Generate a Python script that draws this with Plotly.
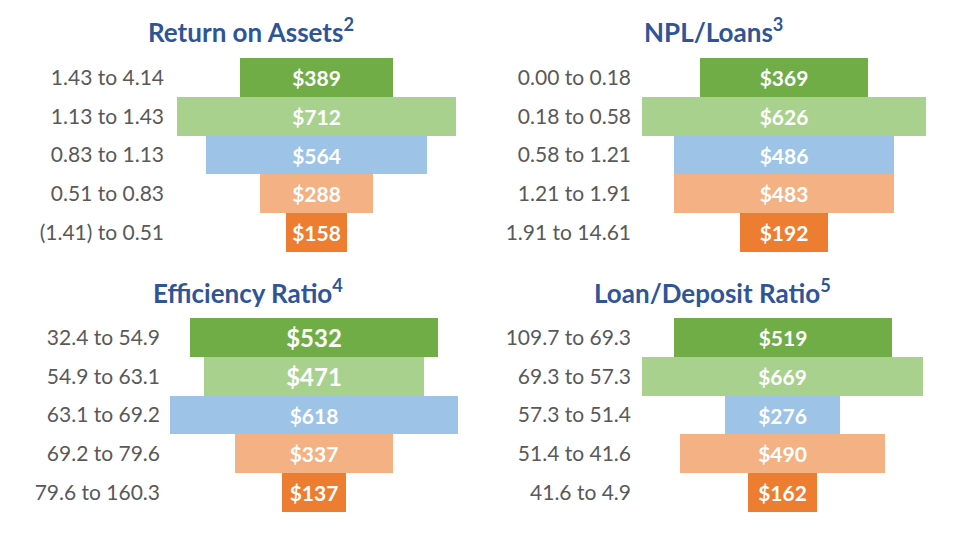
import plotly.graph_objects as go

# ---- data ----
roa_labels = ["1.43 to 4.14", "1.13 to 1.43", "0.83 to 1.13", "0.51 to 0.83", "(1.41) to 0.51"]
roa_values = [389, 712, 564, 288, 158]

npl_labels = ["0.00 to 0.18", "0.18 to 0.58", "0.58 to 1.21", "1.21 to 1.91", "1.91 to 14.61"]
npl_values = [369, 626, 486, 483, 192]

eff_labels = ["32.4 to 54.9", "54.9 to 63.1", "63.1 to 69.2", "69.2 to 79.6", "79.6 to 160.3"]
eff_values = [532, 471, 618, 337, 137]

ld_labels = ["109.7 to 69.3", "69.3 to 57.3", "57.3 to 51.4", "51.4 to 41.6", "41.6 to 4.9"]
ld_values = [519, 669, 276, 490, 162]

titles = ["Return on Assets<sup>2</sup>", "NPL/Loans<sup>3</sup>",
          "Efficiency Ratio<sup>4</sup>", "Loan/Deposit Ratio<sup>5</sup>"]

colors = ["#70AD47", "#A9D18E", "#9DC3E6", "#F4B183", "#ED7D31"]

# the page body adds an 8px margin; the figure is sized/placed to compensate
OFF = 8
W, H = 979 - 2 * OFF, 558 - 2 * OFF
FONT = "Lato"

# panel geometry in page pixels
panels = [
    (roa_labels, roa_values, 177, 456, 164, 58, 252, 251, 33, [21] * 5),
    (npl_labels, npl_values, 642, 926, 631, 58, 252, 713, 33, [21] * 5),
    (eff_labels, eff_values, 170, 458, 160, 318, 512, 248, 294, [24, 24, 21, 21, 21]),
    (ld_labels, ld_values, 642, 923, 631, 318, 512, 712, 294, [21] * 5),
]

fig = go.Figure()
layout = dict(
    width=W, height=H, margin=dict(l=0, r=0, t=0, b=0),
    paper_bgcolor="white", plot_bgcolor="white",
    showlegend=False, funnelgap=0, annotations=[],
)


def px_x(v):
    return (v - OFF) / W


def px_y(v):
    return 1 - (v - OFF) / H


for i, (labels, values, x0, x1, lx, yt, yb, tx, ty, tsize) in enumerate(panels):
    n = i + 1
    xa = "x" if n == 1 else f"x{n}"
    ya = "y" if n == 1 else f"y{n}"
    fig.add_trace(go.Funnel(
        y=labels, x=values, orientation="h",
        xaxis=xa, yaxis=ya,
        marker=dict(color=colors, line=dict(width=0)),
        connector=dict(visible=False),
        texttemplate="$%{x}", textposition="inside", insidetextanchor="middle",
        constraintext="none",
        textfont=dict(family=FONT, color="white", size=tsize, weight="bold"),
        hoverinfo="skip",
    ))
    m = max(values)
    key_x = "xaxis" if n == 1 else f"xaxis{n}"
    key_y = "yaxis" if n == 1 else f"yaxis{n}"
    layout[key_x] = dict(domain=[px_x(x0), px_x(x1)], range=[-m / 2, m / 2], visible=False,
                         anchor=ya, fixedrange=True)
    layout[key_y] = dict(domain=[px_y(yb), px_y(yt)], range=[4.5, -0.5],
                         anchor="free", position=px_x(lx),
                         showgrid=False, zeroline=False, showline=False, ticks="",
                         tickfont=dict(family=FONT, size=21, color="#595959"),
                         fixedrange=True)
    layout["annotations"].append(dict(
        text=titles[i], x=px_x(tx), y=px_y(ty - 3), xref="paper", yref="paper",
        xanchor="center", yanchor="middle", showarrow=False,
        font=dict(family=FONT, size=26, color="#2F5597", weight="bold"),
    ))

fig.update_layout(**layout)
fig.write_html("out.html")
